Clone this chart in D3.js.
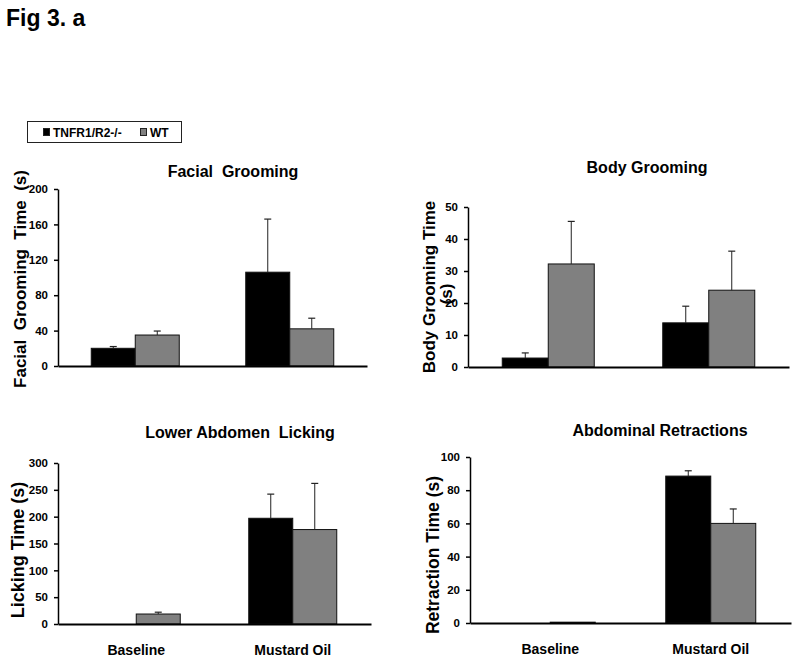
<!DOCTYPE html>
<html>
<head>
<meta charset="utf-8">
<script src="https://cdn.jsdelivr.net/npm/d3@7/dist/d3.min.js"></script>
<style>
  body { margin: 0; background: #fff; }
  svg { display: block; font-family: "Liberation Sans", Arial, sans-serif; font-weight: bold; }
</style>
</head>
<body>
<svg id="chart" width="800" height="662"></svg>
<script>
// ---- data ----
const categories = ["Baseline", "Mustard Oil"];
const seriesNames = ["TNFR1/R2-/-", "WT"];

const facialKO = [20, 106];
const facialKOErr = [2, 60];
const facialWT = [35, 42];
const facialWTErr = [4.5, 12];
const facialTicks = [0, 40, 80, 120, 160, 200];

const bodyKO = [2.8, 13.8];
const bodyKOErr = [1.6, 5.2];
const bodyWT = [32.2, 24];
const bodyWTErr = [13.3, 12.2];
const bodyTicks = [0, 10, 20, 30, 40, 50];

const lickKO = [0, 197];
const lickKOErr = [0, 45];
const lickWT = [18.6, 176];
const lickWTErr = [3.4, 86];
const lickTicks = [0, 50, 100, 150, 200, 250, 300];

const retrKO = [0, 88.5];
const retrKOErr = [0, 3.2];
const retrWT = [0.5, 60];
const retrWTErr = [0, 8.7];
const retrTicks = [0, 20, 40, 60, 80, 100];

const colors = ["#000000", "#808080"];

const svg = d3.select("#chart");

// title
svg.append("text").attr("x", 6).attr("y", 26).attr("font-size", 23).text("Fig 3. a");

// legend
const lg = svg.append("g");
lg.append("rect").attr("x", 27.5).attr("y", 121.5).attr("width", 154).attr("height", 21)
  .attr("fill", "none").attr("stroke", "#222").attr("stroke-width", 1);
const legendX = [43, 140];
seriesNames.forEach((s, i) => {
  lg.append("rect").attr("x", legendX[i] + 0.5).attr("y", 128.5).attr("width", 6).attr("height", 7)
    .attr("fill", colors[i]).attr("stroke", "#222").attr("stroke-width", 1);
  lg.append("text").attr("x", legendX[i] + 10).attr("y", 137).attr("font-size", 12).text(s);
});

const panels = [
  { title: "Facial  Grooming", tx: 233, ty: 177, ylab: ["Facial  Grooming  Time  (s)"], lx: [20], ly: [279], fs: 17,
    x0: 58, x1: 367, yTop: 189, yBot: 366, max: 200, ticks: facialTicks,
    vals: [facialKO, facialWT], errs: [facialKOErr, facialWTErr], barW: 44, cat: false },
  { title: "Body Grooming", tx: 647, ty: 173, ylab: ["Body Grooming Time", "(s)"], lx: [429, 446], ly: [287, 294], fs: 17,
    x0: 468, x1: 789, yTop: 207, yBot: 367, max: 50, ticks: bodyTicks,
    vals: [bodyKO, bodyWT], errs: [bodyKOErr, bodyWTErr], barW: 46, cat: false },
  { title: "Lower Abdomen  Licking", tx: 240, ty: 438, ylab: ["Licking Time (s)"], lx: [18], ly: [550], fs: 18,
    x0: 58, x1: 371, yTop: 463, yBot: 624, max: 300, ticks: lickTicks,
    vals: [lickKO, lickWT], errs: [lickKOErr, lickWTErr], barW: 44, cat: true },
  { title: "Abdominal Retractions", tx: 660, ty: 436, ylab: ["Retraction Time (s)"], lx: [433], ly: [555], fs: 17.5,
    x0: 470, x1: 791, yTop: 457, yBot: 623, max: 100, ticks: retrTicks,
    vals: [retrKO, retrWT], errs: [retrKOErr, retrWTErr], barW: 45, cat: true }
];

panels.forEach(p => {
  const g = svg.append("g");
  const x = d3.scaleBand().domain(categories).range([p.x0, p.x1]).padding(0);
  const y = d3.scaleLinear().domain([0, p.max]).range([p.yBot, p.yTop]);

  g.append("text").attr("x", p.tx).attr("y", p.ty).attr("text-anchor", "middle")
    .attr("font-size", 16).style("white-space", "pre").text(p.title);

  p.ylab.forEach((t, i) => {
    g.append("text").attr("transform", `translate(${p.lx[i]},${p.ly[i]}) rotate(-90)`)
      .attr("text-anchor", "middle").attr("dominant-baseline", "central")
      .attr("font-size", p.fs).style("white-space", "pre").text(t);
  });

  // y axis
  const yAxis = d3.axisLeft(y).tickValues(p.ticks).tickSize(4).tickPadding(6).tickSizeOuter(0);
  const ya = g.append("g").attr("transform", `translate(${p.x0},0)`).call(yAxis);
  ya.select(".domain").attr("stroke", "#000").attr("stroke-width", 1.5);
  ya.selectAll(".tick line").attr("stroke", "#000").attr("stroke-width", 1.5);
  ya.selectAll(".tick text").attr("font-size", 11.5).attr("font-family", "Liberation Sans, Arial, sans-serif")
    .attr("font-weight", "bold").attr("fill", "#000");

  // bars
  categories.forEach((c, ci) => {
    const cx = x(c) + x.bandwidth() / 2;
    p.vals.forEach((vals, si) => {
      const v = vals[ci];
      const bx = si === 0 ? cx - p.barW : cx;
      if (v > 0) {
        g.append("rect").attr("x", bx).attr("y", y(v)).attr("width", p.barW)
          .attr("height", y(0) - y(v)).attr("fill", colors[si]).attr("stroke", "#111").attr("stroke-width", 1);
      }
      const e = p.errs[si][ci];
      if (e > 0) {
        const ex = bx + p.barW / 2;
        g.append("line").attr("x1", ex).attr("x2", ex).attr("y1", y(v)).attr("y2", y(v + e))
          .attr("stroke", "#222").attr("stroke-width", 1);
        g.append("line").attr("x1", ex - 3.5).attr("x2", ex + 3.5).attr("y1", y(v + e)).attr("y2", y(v + e))
          .attr("stroke", "#222").attr("stroke-width", 1.2);
      }
    });
    if (p.cat) {
      g.append("text").attr("x", cx).attr("y", p.yBot + 31).attr("text-anchor", "middle")
        .attr("font-size", 14).text(c);
    }
  });

  // x axis line
  const xAxis = d3.axisBottom(x).tickSize(0).tickFormat("").tickSizeOuter(0);
  const xa = g.append("g").attr("transform", `translate(0,${p.yBot})`).call(xAxis);
  xa.select(".domain").attr("stroke", "#000").attr("stroke-width", 2);
});
</script>
</body>
</html>
